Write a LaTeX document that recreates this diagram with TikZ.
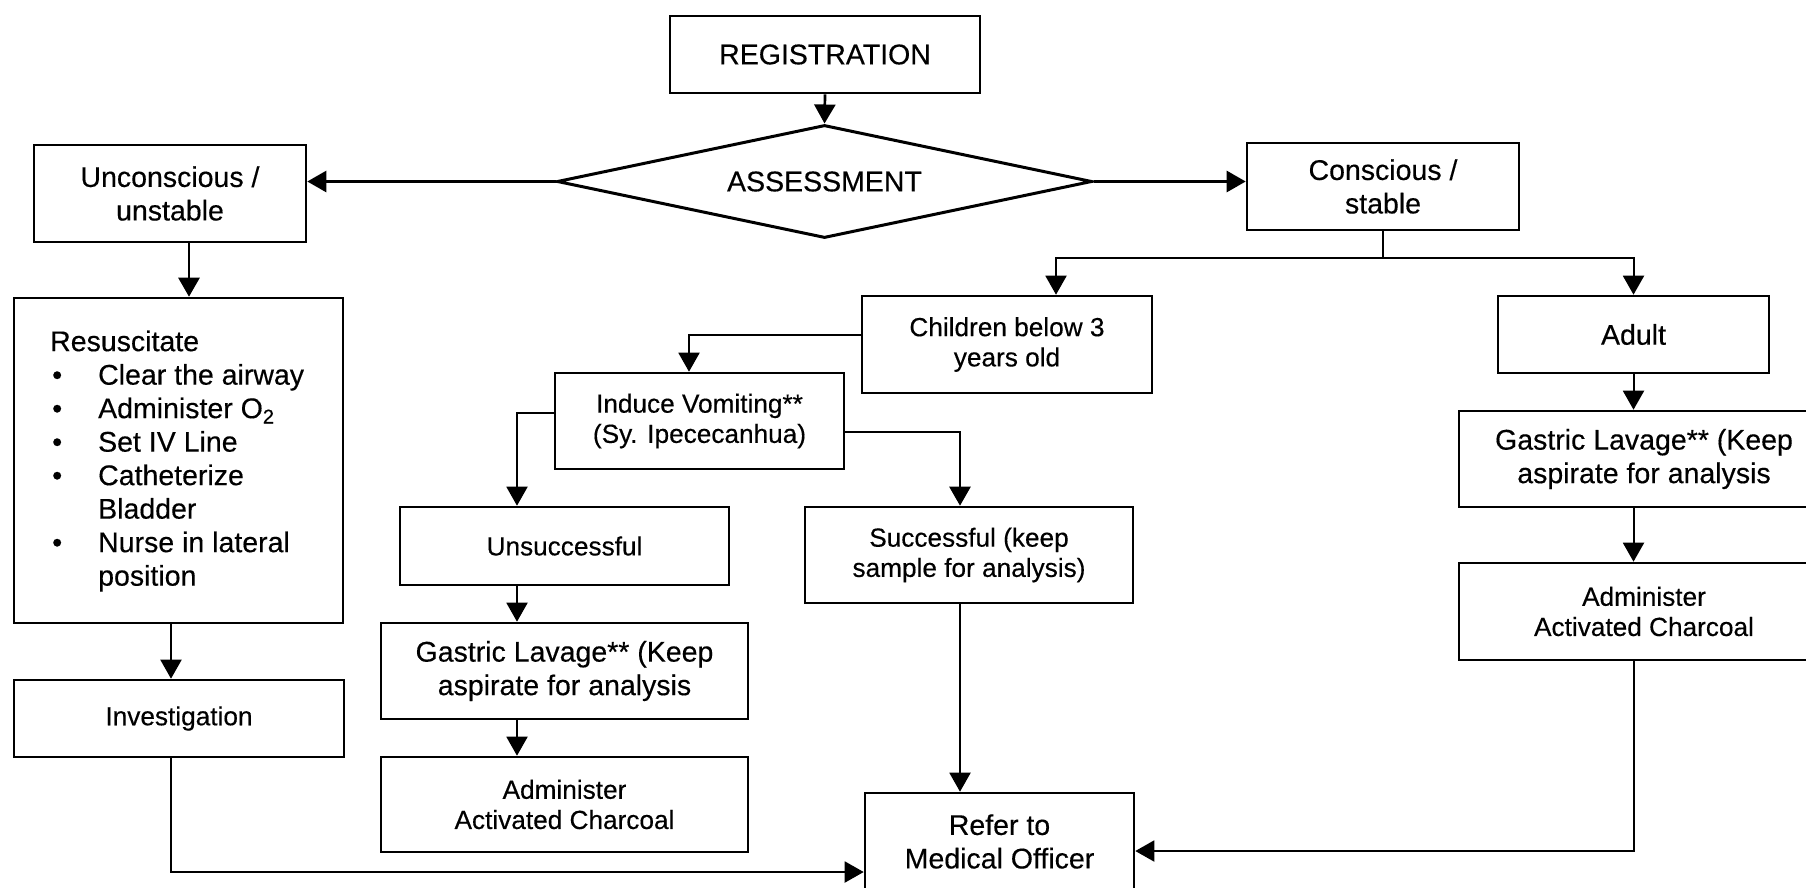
\documentclass[tikz,border=0pt]{standalone}
\usepackage{fontspec}
\setmainfont{Liberation Sans}[FakeBold=0.35]
\usetikzlibrary{shapes.geometric,arrows.meta}
\newcommand{\flowbig}{\fontsize{28.5}{33.5}\selectfont}
\newcommand{\flowsmall}{\fontsize{26.2}{30.2}\selectfont}
\newcommand{\itembullet}{\makebox[48pt][l]{\hspace{2pt}\textbullet}}
\begin{document}
\begin{tikzpicture}[x=1pt,y=-1pt,
  box/.style={draw,line width=2.6pt,inner sep=0pt,align=center,font=\flowbig},
  sbox/.style={box,font=\flowsmall},
  arr/.style={-{Triangle[length=19pt,width=21pt]}},
  conn/.style={line width=2pt,arr},
  connthick/.style={line width=2.7pt,arr},
  plain/.style={line width=2pt}]
\useasboundingbox (0,0) rectangle (1806,887);
\fill[white] (0,0) rectangle (1806,887);
\clip (0,0) rectangle (1806,887);

% decision chain at the top
\node[box,minimum width=310pt,minimum height=77pt] (reg) at (825,54.5) {REGISTRATION};
\node[draw,line width=3pt,shape=diamond,aspect=4.73,inner sep=0pt,
      minimum width=535pt,minimum height=113pt,font=\flowbig] (assess) at (824.5,181.5) {ASSESSMENT};
\node[box,minimum width=272pt,minimum height=97pt] (unc) at (170,193.5) {Unconscious /\\unstable};
\node[box,minimum width=272pt,minimum height=87pt] (con) at (1383,186.5) {Conscious /\\stable};

% unconscious branch
\node[box,minimum width=329pt,minimum height=325pt] (res) at (178.5,460.5) {};
\node[anchor=north west,inner sep=0pt,font=\flowbig] (restext) at (50,327.5) {%
\begin{tabular}{@{}l@{}}
Resuscitate\\
\itembullet Clear the airway\\
\itembullet Administer O\textsubscript{2}\\
\itembullet Set IV Line\\
\itembullet Catheterize\\
\hspace*{48pt}Bladder\\
\itembullet Nurse in lateral\\
\hspace*{48pt}position
\end{tabular}};
\node[sbox,minimum width=330pt,minimum height=77pt] (inv) at (179,718.5) {Investigation};

% conscious branch: children
\node[sbox,minimum width=290pt,minimum height=97pt] (child) at (1007,344.5) {Children below 3\\years old};
\node[sbox,minimum width=289pt,minimum height=96pt] (induce) at (699.5,421) {Induce Vomiting**\\(Sy. Ipececanhua)};
\node[sbox,minimum width=329pt,minimum height=78pt] (unsucc) at (564.5,546) {Unsuccessful};
\node[sbox,minimum width=328pt,minimum height=96pt] (succ) at (969,555) {Successful (keep\\sample for analysis)};
\node[box,minimum width=367pt,minimum height=96pt] (gl) at (564.5,671) {Gastric Lavage** (Keep\\aspirate for analysis};
\node[sbox,minimum width=367pt,minimum height=95pt] (al) at (564.5,804.5) {Administer\\Activated Charcoal};

% conscious branch: adult
\node[box,minimum width=271pt,minimum height=77pt] (adult) at (1633.5,334.5) {Adult};
\node[box,minimum width=370pt,minimum height=96pt] (gr) at (1644,459) {Gastric Lavage** (Keep\\aspirate for analysis};
\node[sbox,minimum width=370pt,minimum height=97pt] (ar) at (1644,611.5) {Administer\\Activated Charcoal};

% common end point
\node[box,minimum width=269pt,minimum height=97pt] (refer) at (999.5,841.5) {Refer to\\Medical Officer};

% routing points
\coordinate (uncx) at (189,0);
\coordinate (invx) at (171,872);
\coordinate (split) at (1383,258);
\coordinate (childx) at (1056,258);
\coordinate (ivx) at (689,335);
\coordinate (lx) at (517,413);
\coordinate (sx) at (960,432);
\coordinate (rx) at (1633.5,851);

% connectors
\draw[connthick] (reg.south) -- (assess.north);
\draw[connthick] (assess.west) -- (assess.west -| unc.east);
\draw[connthick] (assess.east) -- (assess.east -| con.west);
\draw[connthick] (unc.south -| uncx) -- (res.north -| uncx);
\draw[conn] (res.south -| invx) -- (inv.north -| invx);
\draw[conn] (inv.south -| invx) -- (invx) -- (refer.west |- invx);

\draw[plain] (con.south) -- (split);
\draw[conn] (split) -| (adult.north);
\draw[conn] (split) -| (child.north -| childx);
\draw[conn] (child.west |- ivx) -| (induce.north -| ivx);
\draw[conn] (induce.west |- lx) -| (unsucc.north -| lx);
\draw[conn,line width=2.5pt] (induce.east |- sx) -| (succ.north -| sx);
\draw[conn] (unsucc.south -| lx) -- (gl.north -| lx);
\draw[conn] (gl.south -| lx) -- (al.north -| lx);
\draw[conn] (succ.south -| sx) -- (refer.north -| sx);

\draw[conn] (adult.south) -- (gr.north -| adult.south);
\draw[conn] (gr.south -| adult.south) -- (ar.north -| adult.south);
\draw[conn] (ar.south -| rx) -- (rx) -- (refer.east |- rx);
\end{tikzpicture}
\end{document}
